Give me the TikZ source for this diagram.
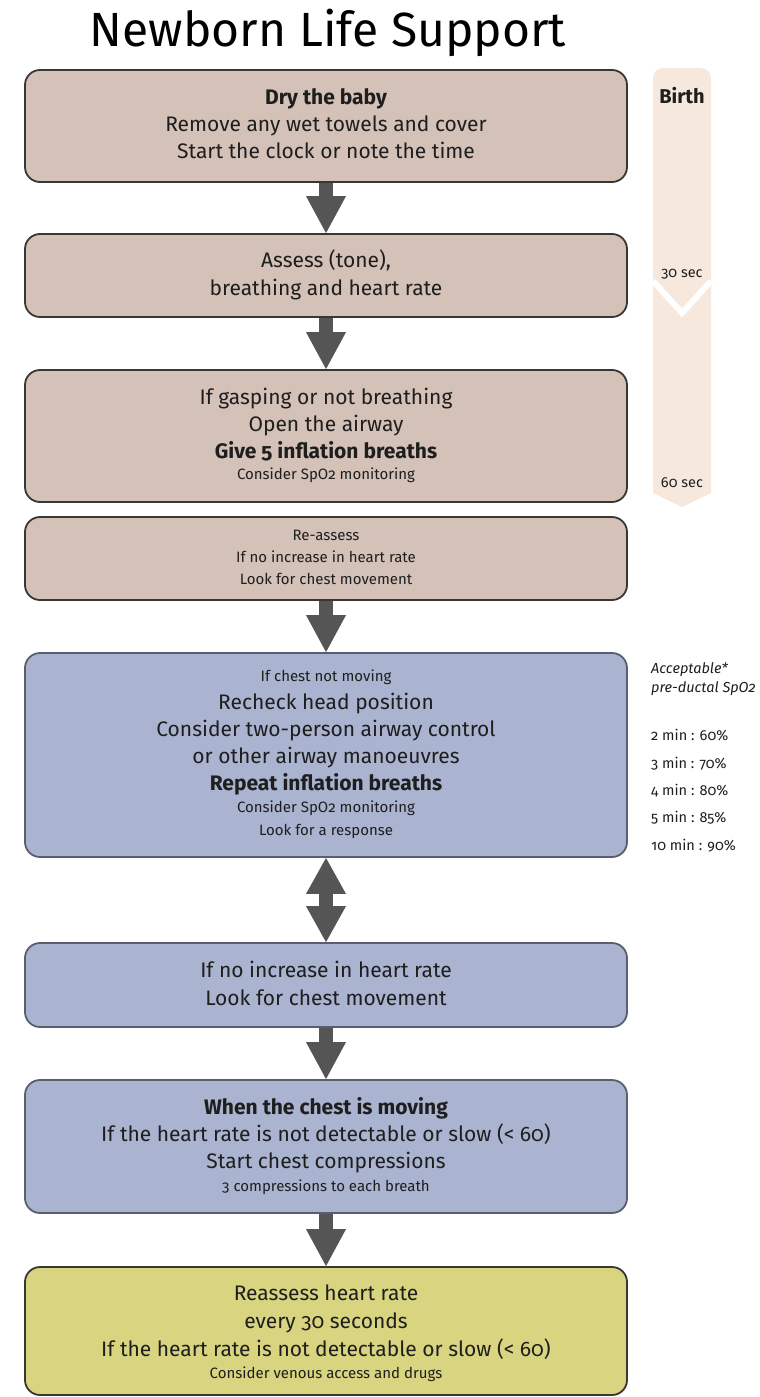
\documentclass[tikz,border=0pt]{standalone}
\usepackage{fontspec}
\setmainfont{Fira Sans}[Numbers=OldStyle]
\usetikzlibrary{calc}
\definecolor{tanfill}{HTML}{D4C1B7}
\definecolor{bluefill}{HTML}{AAB3CF}
\definecolor{yelfill}{HTML}{D8D47F}
\definecolor{tlfill}{HTML}{F6E8DD}
\definecolor{arrowc}{HTML}{555555}
\definecolor{edgec}{HTML}{3A3633}
\definecolor{edgeb}{HTML}{5A5E6E}
\definecolor{txt}{HTML}{1E1E1E}
\tikzset{
  box/.style={draw=edgec, line width=1.8pt, rounded corners=15pt, minimum width=602pt, inner sep=0pt},
  big/.style={font=\fontsize{21}{25}\selectfont, text=txt, anchor=base, inner sep=0pt},
  bigb/.style={font=\fontsize{21}{25}\selectfont\bfseries, text=txt, anchor=base, inner sep=0pt},
  sml/.style={font=\fontsize{15}{18}\selectfont, text=txt, anchor=base, inner sep=0pt},
  side/.style={font=\fontsize{14.5}{18}\selectfont, text=txt, anchor=base west, inner sep=0pt},
}
\newcommand\nlsarrow[2]{%
  \fill[arrowc] ($(#1.south)+(-7,0)$) rectangle ($(#2.north)+(7,-37)$);
  \fill[arrowc] ($(#2.north)+(-20,-37)$) -- ($(#2.north)+(20,-37)$) -- (#2.north) -- cycle;
}
\begin{document}
\begin{tikzpicture}[x=1pt,y=-1pt]
\useasboundingbox (0,0) rectangle (760,1397);
% title
\node[font=\fontsize{48}{54}\selectfont, text=black, anchor=base, inner sep=0pt] (title) at (328,47) {Newborn Life Support};
% timeline
\fill[tlfill, rounded corners=10pt] (653,68) rectangle (711,130);
\fill[tlfill] (653,90) -- (711,90) -- (711,493) -- (682,507) -- (653,493) -- cycle;
\draw[white, line width=6pt] (653,281) -- (682,313) -- (711,281);
\node[font=\fontsize{20}{24}\selectfont\bfseries, text=txt, anchor=base, inner sep=0pt] (birth) at (682,103) {Birth};
\node[sml, font=\fontsize{14.5}{17}\selectfont] (t30) at (682,277) {30 sec};
\node[sml, font=\fontsize{14.5}{17}\selectfont] (t60) at (682,487) {60 sec};
% boxes
\node[box, fill=tanfill, minimum height=112pt] (b1) at (326,126) {};
\node[box, fill=tanfill, minimum height=83pt] (b2) at (326,275.5) {};
\node[box, fill=tanfill, minimum height=132pt] (b3) at (326,436) {};
\node[box, fill=tanfill, minimum height=83pt] (b4) at (326,558.5) {};
\node[box, draw=edgeb, fill=bluefill, minimum height=204pt] (b5) at (326,755) {};
\node[box, draw=edgeb, fill=bluefill, minimum height=84pt] (b6) at (326,985) {};
\node[box, draw=edgeb, fill=bluefill, minimum height=133pt] (b7) at (326,1146.5) {};
\node[box, fill=yelfill, minimum height=128pt] (b8) at (326,1331) {};
% texts
\node[bigb] (b1a) at (326,104) {Dry the baby};
\node[big] (b1b) at (326,131) {Remove any wet towels and cover};
\node[big] (b1c) at (326,158) {Start the clock or note the time};
\node[big] (b2a) at (326,267) {Assess (tone),};
\node[big] (b2b) at (326,295) {breathing and heart rate};
\node[big] (b3a) at (326,404) {If gasping or not breathing};
\node[big] (b3b) at (326,431) {Open the airway};
\node[bigb] (b3c) at (326,458) {Give 5 inflation breaths};
\node[sml] (b3d) at (326,479) {Consider SpO2 monitoring};
\node[sml] (b4a) at (326,540) {Re-assess};
\node[sml] (b4b) at (326,562) {If no increase in heart rate};
\node[sml] (b4c) at (326,584) {Look for chest movement};
\node[sml] (b5a) at (326,681) {If chest not moving};
\node[big] (b5b) at (326,709) {Recheck head position};
\node[big] (b5c) at (326,736) {Consider two-person airway control};
\node[big] (b5d) at (326,763) {or other airway manoeuvres};
\node[bigb] (b5e) at (326,790) {Repeat inflation breaths};
\node[sml] (b5f) at (326,812) {Consider SpO2 monitoring};
\node[sml] (b5g) at (326,835) {Look for a response};
\node[big] (b6a) at (326,977) {If no increase in heart rate};
\node[big] (b6b) at (326,1005) {Look for chest movement};
\node[bigb] (b7a) at (326,1114) {When the chest is moving};
\node[big] (b7b) at (326,1141) {If the heart rate is not detectable or slow (< 60)};
\node[big] (b7c) at (326,1168) {Start chest compressions};
\node[sml] (b7d) at (326,1191) {3 compressions to each breath};
\node[big] (b8a) at (326,1300) {Reassess heart rate};
\node[big] (b8b) at (326,1328) {every 30 seconds};
\node[big] (b8c) at (326,1356) {If the heart rate is not detectable or slow (< 60)};
\node[sml] (b8d) at (326,1378) {Consider venous access and drugs};
% side list
\node[side, font=\fontsize{14.5}{18}\selectfont\itshape] (s1) at (651,673) {Acceptable*};
\node[side, font=\fontsize{14.5}{18}\selectfont\itshape] (s2) at (651,692) {pre-ductal SpO2};
\node[side] (s3) at (651,740) {2 min : 60\%};
\node[side] (s4) at (651,768) {3 min : 70\%};
\node[side] (s5) at (651,795) {4 min : 80\%};
\node[side] (s6) at (651,822) {5 min : 85\%};
\node[side] (s7) at (651,850) {10 min : 90\%};
% arrows
\nlsarrow{b1}{b2}
\nlsarrow{b2}{b3}
\nlsarrow{b4}{b5}
\nlsarrow{b6}{b7}
\nlsarrow{b7}{b8}
\fill[arrowc] ($(b5.south)+(-20,36)$) -- ($(b5.south)+(20,36)$) -- (b5.south) -- cycle;
\fill[arrowc] ($(b5.south)+(-7,36)$) rectangle ($(b6.north)+(7,-36)$);
\fill[arrowc] ($(b6.north)+(-20,-36)$) -- ($(b6.north)+(20,-36)$) -- (b6.north) -- cycle;
\end{tikzpicture}
\end{document}
